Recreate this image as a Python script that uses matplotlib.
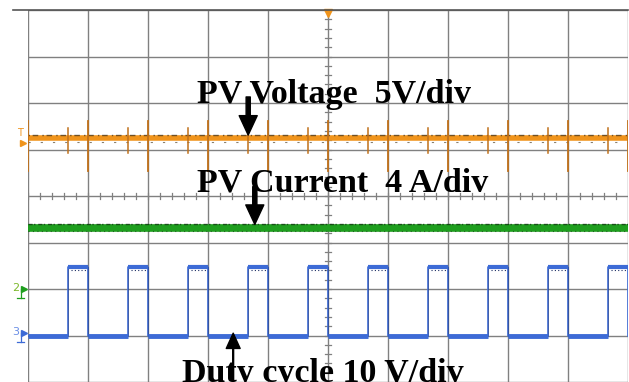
import matplotlib
matplotlib.use("Agg")
import matplotlib.pyplot as plt

# niveles de cada canal en divisiones
pv_voltage_level = 5.25
pv_current_level = 3.31
duty_low = 1.0
duty_high = 2.47

# instantes de conmutacion (divisiones de tiempo)
rise_times = [0.67, 1.67, 2.67, 3.67, 4.67, 5.67, 6.67, 7.67, 8.67, 9.67]
fall_times = [0.0, 1.0, 2.0, 3.0, 4.0, 5.0, 6.0, 7.0, 8.0, 9.0, 10.0]

# picos en la tension del panel (arriba, abajo)
big_spike = (0.36, -0.72)
small_spike = (0.21, -0.32)

labels = ["PV Voltage  5V/div", "PV Current  4 A/div", "Duty cycle 10 V/div"]

orange = "#F0941C"
green = "#1E9E1E"
blue = "#3D6BD6"
gridc = "#808080"

fig = plt.figure(figsize=(6.29, 3.82), dpi=100)
ax = fig.add_axes([28 / 629, 0, 600 / 629, 372 / 382])
ax.set_xlim(0, 10)
ax.set_ylim(0, 8)
ax.axis("off")

# rejilla
for i in range(11):
    ax.plot([i, i], [0, 8], color=gridc, lw=1.0, zorder=1)
for j in range(9):
    ax.plot([0, 10], [j, j], color=gridc, lw=1.0, zorder=1)
# marcas menores en los ejes centrales
for k in range(50):
    t = k * 0.2
    ax.plot([t, t], [3.93, 4.07], color=gridc, lw=0.9, zorder=1)
for k in range(40):
    v = k * 0.2
    ax.plot([4.95, 5.05], [v, v], color=gridc, lw=0.9, zorder=1)
fig.add_artist(plt.Line2D([13 / 629, 628 / 629], [372 / 382, 372 / 382],
                          color="#555555", lw=1.2))
ax.plot([5], [7.93], marker="v", color=orange, ms=6, clip_on=False, zorder=5)

# tension del panel
ax.plot([0, 10], [pv_voltage_level, pv_voltage_level], color=orange, lw=4, zorder=3,
        solid_capstyle="butt")
ax.plot([0, 10], [pv_voltage_level + 0.07, pv_voltage_level + 0.07], color="#3a2a10",
        lw=1.0, ls=(0, (1, 2, 4, 3)), alpha=0.7, zorder=3)
ax.plot([0, 10], [pv_voltage_level - 0.09, pv_voltage_level - 0.09], color="#3a2a10",
        lw=0.8, ls=(0, (2, 9)), alpha=0.6, zorder=3)
for t in fall_times:
    ax.plot([t, t], [pv_voltage_level + big_spike[1], pv_voltage_level + big_spike[0]],
            color="#c0701a", lw=1.3, zorder=3)
for t in rise_times:
    ax.plot([t, t], [pv_voltage_level + small_spike[1], pv_voltage_level + small_spike[0]],
            color="#c0701a", lw=1.1, zorder=3)

# corriente del panel
ax.plot([0, 10], [pv_current_level, pv_current_level], color=green, lw=5.5, zorder=3,
        solid_capstyle="butt")
ax.plot([0, 10], [pv_current_level + 0.08, pv_current_level + 0.08], color="#0b300b",
        lw=1.0, ls=(0, (3, 1, 1, 2)), alpha=0.75, zorder=3)
ax.plot([0, 10], [pv_current_level - 0.07, pv_current_level - 0.07], color="#0b300b",
        lw=0.8, ls=(0, (1, 3)), alpha=0.6, zorder=3)

# ciclo de trabajo
xs = [0.0]
ys = [duty_low]
for r, f in zip(rise_times, fall_times[1:]):
    xs += [r, r, f, f]
    ys += [duty_low, duty_high, duty_high, duty_low]
ax.plot(xs, ys, color=blue, lw=1.2, zorder=3)
ax.plot(xs, ys, color="#1d2f66", lw=0.5, alpha=0.6, zorder=3)
prev = 0.0
for r, f in zip(rise_times, fall_times[1:]):
    ax.plot([prev, r], [duty_low, duty_low], color=blue, lw=3.5, zorder=3,
            solid_capstyle="butt")
    ax.plot([r, f], [duty_high, duty_high], color=blue, lw=3.0, zorder=3,
            solid_capstyle="butt")
    ax.plot([r + 0.05, f - 0.03], [duty_high - 0.06, duty_high - 0.06], color="#1d2f66",
            lw=0.8, ls=(0, (1, 2)), zorder=3)
    prev = f

# marcadores de canal a la izquierda
ax.text(-0.13, 5.35, "T", color=orange, fontsize=7, ha="center", va="center", clip_on=False)
ax.plot([-0.09], [5.15], marker=">", color=orange, ms=5, clip_on=False)
ax.text(-0.2, 2.02, "2", color="#7bb82a", fontsize=8, ha="center", va="center", clip_on=False)
ax.plot([-0.07], [2.0], marker=">", color=green, ms=4, clip_on=False)
ax.plot([-0.12, -0.12], [2.0, 1.8], color=green, lw=0.9, clip_on=False)
ax.plot([-0.18, -0.06], [1.8, 1.8], color=green, lw=0.9, clip_on=False)
ax.text(-0.2, 1.07, "3", color="#6a8ee6", fontsize=8, ha="center", va="center", clip_on=False)
ax.plot([-0.07], [1.05], marker=">", color=blue, ms=4, clip_on=False)
ax.plot([-0.12, -0.12], [1.05, 0.85], color=blue, lw=0.9, clip_on=False)
ax.plot([-0.18, -0.06], [0.85, 0.85], color=blue, lw=0.9, clip_on=False)

# etiquetas
font = dict(family="Liberation Serif", fontweight="bold", fontsize=24.5, color="black",
            ha="left", va="baseline", zorder=6)
ax.text(2.82, 6.0, labels[0], **font)
ax.text(2.82, 4.1, labels[1], **font)
ax.text(2.57, 0.0, labels[2], clip_on=False, **font)

# flechas
ax.annotate("", xy=(3.67, pv_voltage_level + 0.06), xytext=(3.67, 6.13),
            arrowprops=dict(facecolor="black", edgecolor="black", width=3,
                            headwidth=13, headlength=14), zorder=6)
ax.annotate("", xy=(3.78, pv_current_level + 0.08), xytext=(3.78, 4.2),
            arrowprops=dict(facecolor="black", edgecolor="black", width=3,
                            headwidth=13, headlength=14), zorder=6)
ax.annotate("", xy=(3.42, duty_low + 0.05), xytext=(3.42, 0.0),
            arrowprops=dict(facecolor="black", edgecolor="black", width=0.6,
                            headwidth=10, headlength=11), zorder=6)

fig.savefig("out.png", dpi=100)
